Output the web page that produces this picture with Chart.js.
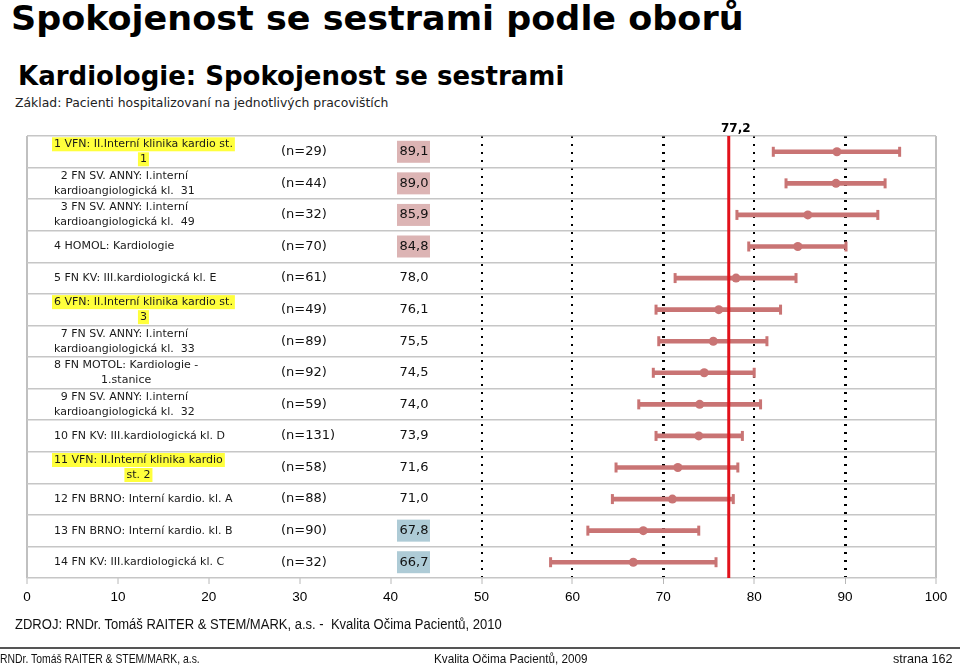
<!DOCTYPE html>
<html>
<head>
<meta charset="utf-8">
<script src="https://cdn.jsdelivr.net/npm/chart.js@4.4.0/dist/chart.umd.min.js"></script>
<style>
  body { margin: 0; width: 960px; height: 665px; position: relative; background: #fff; overflow: hidden;
         font-family: 'DejaVu Sans', Verdana, sans-serif; }
  #wrap { position: absolute; left: 0; top: 0; width: 960px; height: 665px; }
  .t { position: absolute; white-space: nowrap; color: #000; line-height: normal; transform-origin: left top; }
  .narrow { font-family: 'Liberation Sans Narrow', 'Liberation Sans', Arial, sans-serif; }
</style>
</head>
<body>
<div class="t" style="left:11px;top:-1px;font-size:33px;font-weight:bold;transform:scaleX(1.06)">Spokojenost se sestrami podle oborů</div>
<div class="t" style="left:18px;top:61px;font-size:26px;font-weight:bold">Kardiologie: Spokojenost se sestrami</div>
<div class="t" style="left:15px;top:95px;font-size:12.4px;color:#222">Základ: Pacienti hospitalizovaní na jednotlivých pracovištích</div>
<div id="wrap"><canvas id="chart"></canvas></div>
<div class="t narrow" style="left:15px;top:616px;font-size:14px;color:#111;transform:scaleX(0.93)">ZDROJ: RNDr. Tomáš RAITER &amp; STEM/MARK, a.s. -&nbsp; Kvalita Očima Pacientů, 2010</div>
<div style="position:absolute;left:0;top:647px;width:960px;height:2px;background:#555"></div>
<div class="t narrow" style="left:0;top:651px;font-size:13px;color:#111;transform:scaleX(0.8)">RNDr. Tomáš RAITER &amp; STEM/MARK, a.s.</div>
<div class="t narrow" style="left:434px;top:651px;font-size:13px;color:#111;transform:scaleX(0.9)">Kvalita Očima Pacientů, 2009</div>
<div class="t narrow" style="left:893px;top:651px;font-size:13px;color:#111;transform:scaleX(0.97)">strana 162</div>

<script>
// pracoviste (po radcich)
const labelLines = [
  ['1 VFN: II.Interní klinika kardio st.', '1'],
  ['2 FN SV. ANNY: I.interní', 'kardioangiologická kl.  31'],
  ['3 FN SV. ANNY: I.interní', 'kardioangiologická kl.  49'],
  ['4 HOMOL: Kardiologie'],
  ['5 FN KV: III.kardiologická kl. E'],
  ['6 VFN: II.Interní klinika kardio st.', '3'],
  ['7 FN SV. ANNY: I.interní', 'kardioangiologická kl.  33'],
  ['8 FN MOTOL: Kardiologie -', '1.stanice'],
  ['9 FN SV. ANNY: I.interní', 'kardioangiologická kl.  32'],
  ['10 FN KV: III.kardiologická kl. D'],
  ['11 VFN: II.Interní klinika kardio', 'st. 2'],
  ['12 FN BRNO: Interní kardio. kl. A'],
  ['13 FN BRNO: Interní kardio. kl. B'],
  ['14 FN KV: III.kardiologická kl. C']
];
const counts = [29, 44, 32, 70, 61, 49, 89, 92, 59, 131, 58, 88, 90, 32];
const means  = [89.1, 89.0, 85.9, 84.8, 78.0, 76.1, 75.5, 74.5, 74.0, 73.9, 71.6, 71.0, 67.8, 66.7];
const lows   = [82.1, 83.5, 78.1, 79.4, 71.3, 69.2, 69.5, 68.9, 67.3, 69.2, 64.8, 64.4, 61.7, 57.6];
const highs  = [96.0, 94.4, 93.6, 90.1, 84.6, 82.9, 81.4, 80.0, 80.7, 78.7, 78.2, 77.7, 73.9, 75.8];
// 1 = vyrazne nad prumerem, -1 = pod prumerem
const signif = [1, 1, 1, 1, 0, 0, 0, 0, 0, 0, 0, 0, -1, -1];
const overall = 77.2;

const barCol = '#c97474';
const fmt = v => v.toFixed(1).replace('.', ',');

const rowText = {
  id: 'rowText',
  afterDraw(chart) {
    const { ctx, scales: { y } } = chart;
    ctx.save();
    ctx.textBaseline = 'middle';
    labelLines.forEach((lines, i) => {
      const cy = y.getPixelForValue(i);
      // nazev pracoviste
      ctx.font = '11px "DejaVu Sans"';
      const w = Math.max(...lines.map(l => ctx.measureText(l).width));
      const cx = 54 + w / 2;
      const hl = lines[0].includes('VFN:');
      lines.forEach((ln, k) => {
        const ly = cy + (k - (lines.length - 1) / 2) * 15;
        const lw = ctx.measureText(ln).width;
        if (hl) {
          ctx.fillStyle = '#ffff3c';
          ctx.fillRect(cx - lw / 2 - 2, ly - 7, lw + 4, 14);
        }
        ctx.fillStyle = '#1a1a1a';
        ctx.textAlign = 'center';
        ctx.fillText(ln, cx, ly);
      });
      // pocet respondentu
      ctx.font = '13px "DejaVu Sans"';
      ctx.textAlign = 'left';
      ctx.fillStyle = '#111';
      ctx.fillText('(n=' + counts[i] + ')', 281, cy);
      // hodnota
      if (signif[i] !== 0) {
        ctx.fillStyle = signif[i] > 0 ? '#dcb4b4' : '#aecbd6';
        ctx.fillRect(397, cy - 11, 33, 22);
      }
      ctx.fillStyle = '#111';
      ctx.textAlign = 'center';
      ctx.fillText(fmt(means[i]), 414, cy);
    });
    ctx.restore();
  },
  afterDatasetsDraw(chart) {
    const { ctx, chartArea, scales: { x } } = chart;
    const px = x.getPixelForValue(overall);
    ctx.save();
    ctx.strokeStyle = '#e2121b';
    ctx.lineWidth = 3;
    ctx.beginPath();
    ctx.moveTo(px, chartArea.top);
    ctx.lineTo(px, chartArea.bottom);
    ctx.stroke();
    ctx.fillStyle = '#000';
    ctx.font = 'bold 12px "DejaVu Sans"';
    ctx.textAlign = 'center';
    ctx.textBaseline = 'alphabetic';
    ctx.fillText(fmt(overall), px + 7, chartArea.top - 4);
    ctx.restore();
  }
};

const tickVal = c => (c.tick ? c.tick.value : null);

new Chart(document.getElementById('chart'), {
  data: {
    labels: labelLines.map(l => l.join(' ')),
    datasets: [
      { type: 'bar', data: lows.map((l, i) => [l, highs[i]]), backgroundColor: barCol,
        barThickness: 4, borderWidth: 0, order: 4 },
      { type: 'line', data: lows, showLine: false, pointStyle: 'line', rotation: 90,
        pointRadius: 5, borderWidth: 3, borderColor: barCol, order: 3 },
      { type: 'line', data: highs, showLine: false, pointStyle: 'line', rotation: 90,
        pointRadius: 5, borderWidth: 3, borderColor: barCol, order: 2 },
      { type: 'line', data: means, showLine: false, pointStyle: 'circle', pointRadius: 4.5,
        backgroundColor: barCol, borderColor: barCol, borderWidth: 0, order: 1 }
    ]
  },
  options: {
    indexAxis: 'y',
    responsive: true,
    maintainAspectRatio: false,
    animation: false,
    layout: { padding: { left: 27, right: 24, top: 136, bottom: 57 } },
    plugins: { legend: { display: false }, tooltip: { enabled: false } },
    scales: {
      x: {
        type: 'linear', min: 0, max: 100,
        afterFit(s) { s.height = 30; },
        ticks: { stepSize: 10, color: '#000', padding: 5,
                 font: { family: "'Liberation Sans Narrow', 'Liberation Sans', Arial", size: 13.5 } },
        grid: {
          color: c => {
            const v = tickVal(c);
            if (v === 0 || v === 100) return '#c0c0c0';
            if (v >= 50) return '#000';
            return 'rgba(0,0,0,0)';
          },
          lineWidth: c => {
            const v = tickVal(c);
            if (v === 0 || v === 100) return 2;
            return (v === 70 || v === 90) ? 3 : 2;
          },
          tickColor: '#b8b8b8', tickLength: 6, tickWidth: 1
        },
        border: {
          display: false,
          dash: c => {
            const v = tickVal(c);
            return (v >= 50 && v < 100) ? [2, 6] : [];
          }
        }
      },
      y: {
        type: 'category', offset: true,
        afterFit(s) { s.width = 0; },
        ticks: { display: false },
        grid: { offset: true, color: '#c6c6c6', lineWidth: 1.5, drawTicks: false },
        border: { display: false }
      }
    }
  },
  plugins: [rowText]
});
</script>
</body>
</html>
